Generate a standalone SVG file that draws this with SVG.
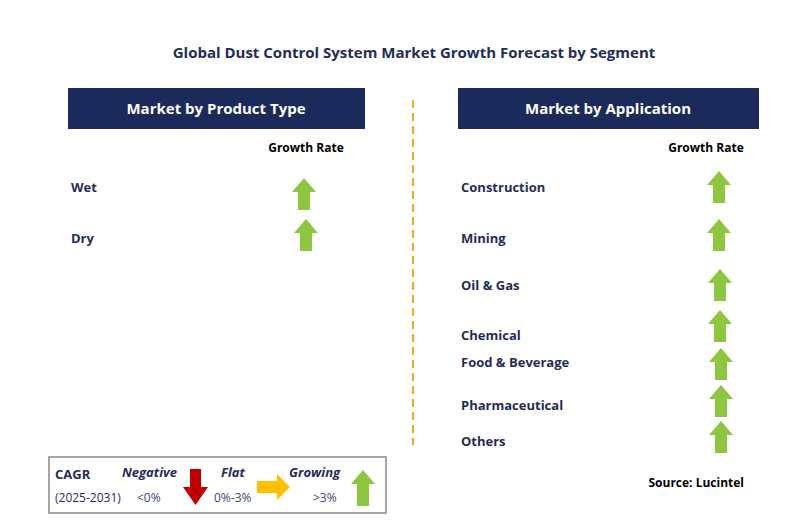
<svg xmlns="http://www.w3.org/2000/svg" width="790" height="521" viewBox="0 0 790 521">
<style>
text{font-family:"Open Sans","Liberation Sans",sans-serif;font-weight:bold;fill:#1f2d5a}
.hd{fill:#fff;font-size:15px}
.lb{font-size:13px}
.gr{font-size:12px;fill:#000}
.up{fill:#8dc63f}
</style>
<defs>
<path id="up" class="up" d="M0,0 L12,14 L6,14 L6,32 L-6,32 L-6,14 L-12,14 Z"/>
</defs>
<rect width="790" height="521" fill="#fff"/>
<text x="414" y="58" text-anchor="middle" font-size="15">Global Dust Control System Market Growth Forecast by Segment</text>
<g id="left-header"><rect x="68" y="88" width="297" height="41" fill="#1a2a5a"/><text class="hd" x="216" y="114" text-anchor="middle">Market by Product Type</text></g>
<g id="right-header"><rect x="458" y="88" width="301" height="41" fill="#1a2a5a"/><text class="hd" x="608" y="114" text-anchor="middle">Market by Application</text></g>
<line x1="413" y1="100" x2="413" y2="445" stroke="#f5a623" stroke-width="2" stroke-dasharray="8,5"/>
<text class="gr" x="306" y="152" text-anchor="middle">Growth Rate</text>
<text class="gr" x="706" y="152" text-anchor="middle">Growth Rate</text>
<g id="wet"><text class="lb" x="71" y="192">Wet</text><use href="#up" x="304" y="178"/></g>
<g id="dry"><text class="lb" x="71" y="243">Dry</text><use href="#up" x="306" y="219"/></g>
<g id="construction"><text class="lb" x="461" y="192">Construction</text><use href="#up" x="719" y="171"/></g>
<g id="mining"><text class="lb" x="461" y="243">Mining</text><use href="#up" x="719" y="219"/></g>
<g id="oilgas"><text class="lb" x="461" y="290">Oil &amp; Gas</text><use href="#up" x="720" y="269"/></g>
<g id="chemical"><text class="lb" x="461" y="340">Chemical</text><use href="#up" x="720" y="310"/></g>
<g id="food"><text class="lb" x="461" y="367">Food &amp; Beverage</text><use href="#up" x="721" y="348"/></g>
<g id="pharma"><text class="lb" x="461" y="410">Pharmaceutical</text><use href="#up" x="721" y="385"/></g>
<g id="others"><text class="lb" x="461" y="446">Others</text><use href="#up" x="721" y="421"/></g>
<text x="744" y="487" text-anchor="end" font-size="12" fill="#000" style="fill:#000">Source: Lucintel</text>
<g id="legend">
<rect x="49" y="457" width="337" height="56" fill="#fff" stroke="#888" stroke-width="1.5"/>
<text x="55" y="479" font-size="13">CAGR</text>
<text x="55" y="502" font-size="12" style="font-weight:normal">(2025-2031)</text>
<text x="122" y="477" font-size="13" font-style="italic">Negative</text>
<text x="137" y="502" font-size="12" style="font-weight:normal;fill:#3a4a7a">&lt;0%</text>
<path d="M190,469 L201,469 L201,487 L208,487 L195.5,505 L183,487 L190,487 Z" fill="#c00000"/>
<text x="221" y="477" font-size="13" font-style="italic">Flat</text>
<text x="214" y="502" font-size="12" style="font-weight:normal;fill:#3a4a7a">0%-3%</text>
<path d="M257,481 L277,481 L277,474 L290,487 L277,500 L277,493 L257,493 Z" fill="#ffc000"/>
<text x="289" y="477" font-size="13" font-style="italic">Growing</text>
<text x="313" y="502" font-size="12" style="font-weight:normal;fill:#3a4a7a">&gt;3%</text>
<path d="M363,470 L375,484 L369,484 L369,506 L357,506 L357,484 L351,484 Z" fill="#8dc63f"/>
</g>
</svg>
